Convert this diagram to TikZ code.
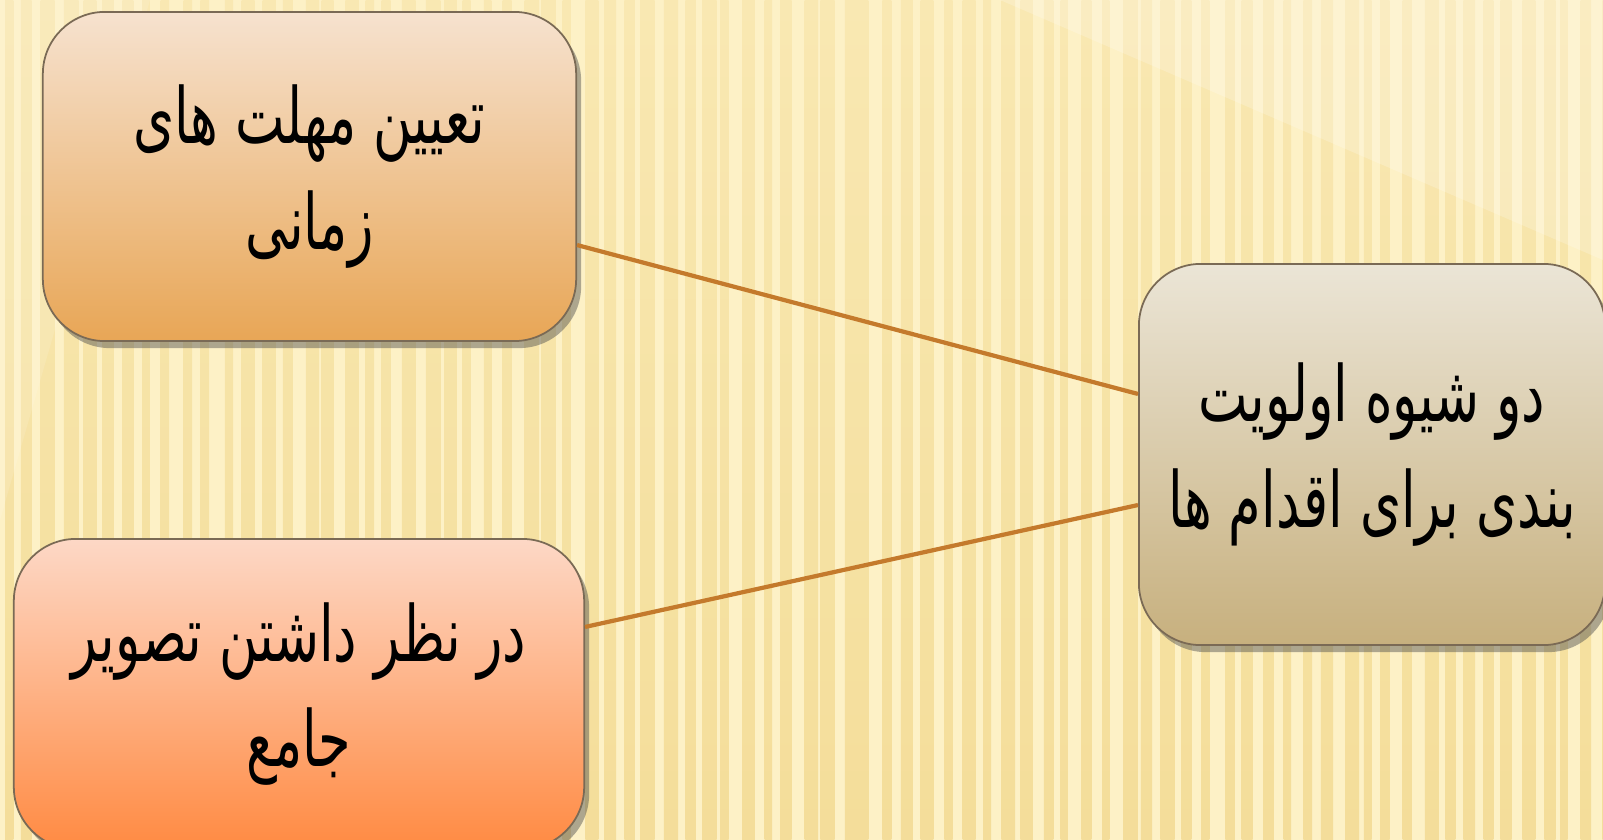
\documentclass[tikz,border=0pt]{standalone}
\usepackage{fontspec}
\TeXXeTstate=1
\newfontfamily\arabicfont[Script=Arabic,FakeStretch=0.68]{DejaVu Sans}
\usetikzlibrary{shadows,calc}
\definecolor{bgbase}{HTML}{FDF1C6}
\definecolor{bgstripe}{HTML}{F2D98F}
\definecolor{linkcol}{HTML}{C47A2C}
\definecolor{boxedge}{HTML}{7A6A55}
\definecolor{aTop}{HTML}{F6E2CF}
\definecolor{aBot}{HTML}{E8A656}
\definecolor{bTop}{HTML}{FDD8C6}
\definecolor{bBot}{HTML}{FF8A42}
\definecolor{cTop}{HTML}{EBE5D6}
\definecolor{cBot}{HTML}{C7B07E}
\tikzset{
  card/.style={rectangle, rounded corners=0.62cm, draw=boxedge, line width=0.5pt,
    align=center, font=\arabicfont\fontsize{22}{30}\selectfont, text=black,
    inner sep=0pt,
    drop shadow={shadow xshift=0.05cm, shadow yshift=-0.07cm, opacity=0.45, fill=black!70}},
  link/.style={draw=linkcol, line width=1.2pt}
}
\begin{document}
\begin{tikzpicture}[x=0.01cm,y=-0.01cm]
\useasboundingbox (0,0) rectangle (1603,840);
\begin{scope}
\clip (0,0) rectangle (1603,840);
\fill[bgbase] (0,0) rectangle (1603,840);
\pgfmathsetseed{7}
\foreach \i in {0,...,80}{
  \pgfmathsetmacro{\xx}{\i*20+rnd*6}
  \pgfmathsetmacro{\ww}{7+rnd*8}
  \shade[top color=bgstripe!45!bgbase, bottom color=bgstripe, opacity=0.8] (\xx,0) rectangle (\xx+\ww,840);
}
\fill[white, opacity=0.2] (1000,0) -- (1603,0) -- (1603,260) -- cycle;
\fill[white, opacity=0.12] (0,0) -- (150,0) -- (0,520) -- cycle;

\node[card, minimum width=5.33cm, minimum height=3.29cm, top color=aTop, bottom color=aBot]
  (deadline) at (309.5,176.5) {\beginR تعیین مهلت های\endR\\ \beginR زمانی\endR};
\node[card, minimum width=5.70cm, minimum height=3.10cm, top color=bTop, bottom color=bBot]
  (whole) at (299,694) {\beginR در نظر داشتن تصویر\endR\\ \beginR جامع\endR};
\node[card, minimum width=4.66cm, minimum height=3.81cm, top color=cTop, bottom color=cBot]
  (ways) at (1372,454.5) {\beginR دو شیوه اولویت\endR\\ \beginR بندی برای اقدام ها\endR};

\draw[link] ([yshift=-0.685cm]deadline.east) -- ([yshift=0.605cm]ways.west);
\draw[link] ([yshift=0.67cm]whole.east) -- ([yshift=-0.505cm]ways.west);
\end{scope}
\end{tikzpicture}
\end{document}
